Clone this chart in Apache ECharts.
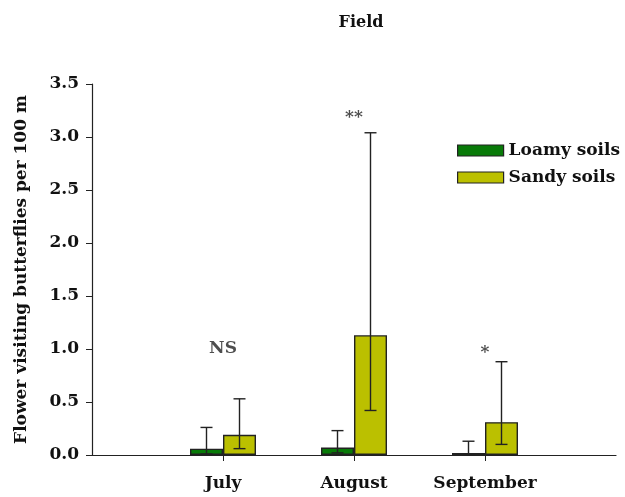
<!doctype html>
<html>
<head>
  <meta charset="utf-8">
  <title>Field</title>
  <script src="https://cdn.jsdelivr.net/npm/echarts@6/dist/echarts.min.js"></script>
  <style>
    html, body { margin: 0; padding: 0; background: #fff; }
    #chart { width: 625px; height: 497px; }
  </style>
</head>
<body>
  <div id="chart"></div>
  <script>
    // data
    var months = ['', 'July', 'August', 'September', ''];
    var loamyMean = ['-', 0.06, 0.07, 0.02, '-'];
    var loamyLow = ['-', 0.01, 0.02, 0.0, '-'];
    var loamyHigh = ['-', 0.26, 0.23, 0.13, '-'];
    var sandyMean = ['-', 0.19, 1.13, 0.31, '-'];
    var sandyLow = ['-', 0.06, 0.42, 0.10, '-'];
    var sandyHigh = ['-', 0.53, 3.04, 0.88, '-'];
    var signif = ['', 'NS', '**', '*', ''];
    var signifY = [0, 1.0, 3.18, 0.97, 0];

    var FONT = 'DejaVu Serif';
    var barW = 33;

    function errData(low, high) {
      var out = [];
      for (var i = 0; i < months.length; i++) {
        if (high[i] === '-') continue;
        out.push([i, low[i], high[i]]);
      }
      return out;
    }

    function errSeries(low, high, side) {
      return {
        type: 'custom',
        silent: true,
        z: 5,
        data: errData(low, high),
        renderItem: function (params, api) {
          var lo = api.coord([api.value(0), api.value(1)]);
          var hi = api.coord([api.value(0), api.value(2)]);
          var x = lo[0] + side * barW / 2;
          var cap = 6;
          var st = { stroke: '#222', lineWidth: 1.4 };
          return {
            type: 'group',
            children: [
              { type: 'line', shape: { x1: x, y1: lo[1], x2: x, y2: hi[1] }, style: st },
              { type: 'line', shape: { x1: x - cap, y1: hi[1], x2: x + cap, y2: hi[1] }, style: st },
              { type: 'line', shape: { x1: x - cap, y1: lo[1], x2: x + cap, y2: lo[1] }, style: st }
            ]
          };
        }
      };
    }

    var chart = echarts.init(document.getElementById('chart'));
    chart.setOption({
      animation: false,
      title: {
        text: 'Field',
        left: 356,
        top: 10,
        textAlign: 'center',
        textStyle: { fontFamily: FONT, fontWeight: 'bold', fontSize: 16, color: '#111' }
      },
      legend: {
        left: 452,
        top: 137,
        orient: 'vertical',
        icon: 'rect',
        itemWidth: 46,
        itemHeight: 11,
        itemGap: 10,
        data: ['Loamy soils', 'Sandy soils'],
        itemStyle: { borderColor: '#222', borderWidth: 1.2 },
        textStyle: { fontFamily: FONT, fontWeight: 'bold', fontSize: 17, color: '#111' }
      },
      grid: { left: 92, right: 9, top: 84, bottom: 42 },
      xAxis: {
        type: 'category',
        data: months,
        boundaryGap: false,
        axisLine: { lineStyle: { color: '#222', width: 1.2 } },
        axisTick: {
          length: 6,
          inside: false,
          interval: function (i) { return months[i] !== ''; },
          lineStyle: { color: '#222' }
        },
        axisLabel: {
          margin: 20,
          interval: 0,
          fontFamily: FONT, fontWeight: 'bold', fontSize: 17, color: '#111'
        },
        splitLine: { show: false }
      },
      yAxis: {
        type: 'value',
        min: 0,
        max: 3.5,
        interval: 0.5,
        name: 'Flower visiting butterflies per 100 m',
        nameLocation: 'middle',
        nameGap: 62,
        nameTextStyle: { fontFamily: FONT, fontWeight: 'bold', fontSize: 17, color: '#111' },
        axisLine: { show: true, lineStyle: { color: '#222', width: 1.2 } },
        axisTick: { show: true, length: 6, lineStyle: { color: '#222' } },
        axisLabel: {
          margin: 13,
          formatter: function (v) { return v.toFixed(1); },
          fontFamily: FONT, fontWeight: 'bold', fontSize: 17, color: '#111'
        },
        splitLine: { show: false }
      },
      series: [
        {
          name: 'Loamy soils',
          type: 'bar',
          data: loamyMean,
          barWidth: barW,
          barGap: '0%',
          itemStyle: { color: '#087a08', borderColor: '#222', borderWidth: 1.4 }
        },
        {
          name: 'Sandy soils',
          type: 'bar',
          data: sandyMean,
          barWidth: barW,
          barGap: '0%',
          itemStyle: { color: '#bbc000', borderColor: '#222', borderWidth: 1.4 }
        },
        errSeries(loamyLow, loamyHigh, -1),
        errSeries(sandyLow, sandyHigh, 1),
        {
          type: 'scatter',
          silent: true,
          symbolSize: 0,
          data: signifY.map(function (v, i) { return [i, signif[i] ? v : '-']; }),
          label: {
            show: true,
            position: 'inside',
            formatter: function (p) { return signif[p.dataIndex]; },
            fontFamily: FONT, fontWeight: 'bold', fontSize: 17, color: '#222'
          }
        }
      ]
    });
  </script>
</body>
</html>
